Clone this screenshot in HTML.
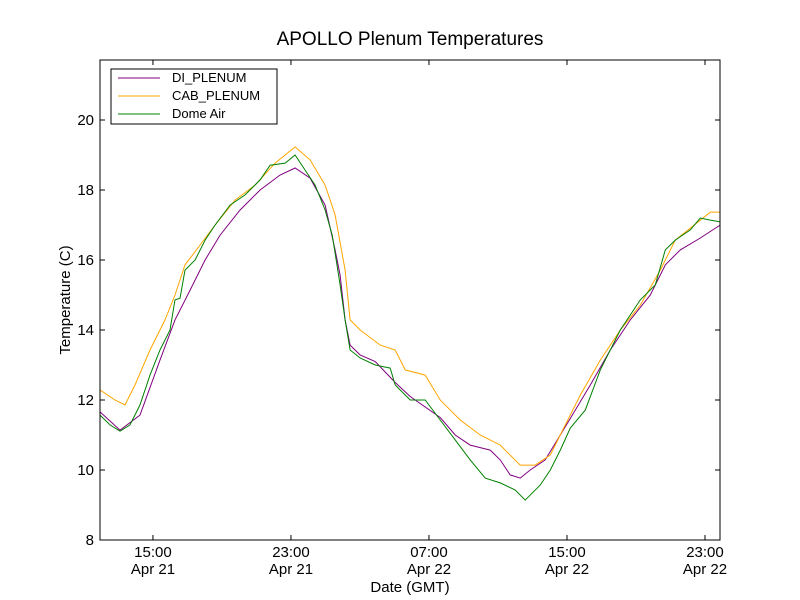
<!DOCTYPE html>
<html><head><meta charset="utf-8"><style>
body{margin:0;background:#fff;}
svg{font-family:"Liberation Sans","DejaVu Sans",sans-serif;display:block}
</style></head><body>
<svg id="c" width="800" height="600" viewBox="0 0 800 600">
<rect width="800" height="600" fill="#fff"/>
<text x="410" y="45" font-size="19" text-anchor="middle">APOLLO Plenum Temperatures</text>
<g id="plot"></g>
<rect x="100" y="60" width="620" height="480" fill="none" stroke="#000" stroke-width="1"/>
<text x="410" y="592" font-size="15" text-anchor="middle">Date (GMT)</text>
<text transform="translate(70,300) rotate(-90)" font-size="15" text-anchor="middle">Temperature (C)</text>
<g>
<rect x="111" y="69" width="166" height="55" fill="#fff" stroke="#000"/>
<line x1="118" y1="78" x2="160" y2="78" stroke="purple"/>
<text x="172" y="82" font-size="13">DI_PLENUM</text>
<line x1="118" y1="96" x2="160" y2="96" stroke="orange"/>
<text x="172" y="100" font-size="13">CAB_PLENUM</text>
<line x1="118" y1="114" x2="160" y2="114" stroke="green"/>
<text x="172" y="118" font-size="13">Dome Air</text>
</g>
</svg>
<script>
const yTicks=[8,10,12,14,16,18,20];
const xTickHours=[15,23,31,39,47];
const xTickTimes=["15:00","23:00","07:00","15:00","23:00"];
const xTickDates=["Apr 21","Apr 21","Apr 22","Apr 22","Apr 22"];
const diT=[11.93,13.09,14.25,15.41,16.28,17.15,18.02,18.89,20.05,21.21,22.37,23.24,24.11,24.98,25.56,25.85,26.14,26.43,27.01,27.88,29.04,29.91,31.65,32.52,33.39,34.55,35.13,35.71,36.29,36.87,37.74,38.61,39.48,40.35,41.51,42.67,43.83,44.70,45.57,46.73,47.89];
const diV=[11.66,11.14,11.57,13.14,14.29,15.14,16.0,16.71,17.43,18.0,18.43,18.63,18.34,17.57,16.29,15.57,14.29,13.57,13.29,13.1,12.5,12.1,11.5,11.0,10.71,10.57,10.29,9.86,9.77,10.0,10.29,11.0,11.71,12.43,13.43,14.29,15.0,15.86,16.29,16.63,17.0];
const cabT=[11.93,12.80,13.38,13.96,14.83,15.70,16.28,16.86,17.73,18.60,19.76,20.92,22.08,23.24,24.11,24.98,25.56,26.14,26.43,27.01,28.17,29.04,29.62,30.78,31.65,32.81,33.97,35.13,36.29,37.16,38.03,38.90,39.77,40.93,42.09,43.25,44.41,45.28,46.15,47.31,47.89];
const cabV=[12.29,12.0,11.86,12.43,13.43,14.29,15.0,15.86,16.43,17.0,17.71,18.14,18.77,19.23,18.86,18.14,17.29,15.71,14.29,14.0,13.57,13.43,12.86,12.71,12.0,11.43,11.0,10.71,10.14,10.14,10.43,11.29,12.14,13.14,14.0,14.71,15.71,16.57,16.91,17.37,17.37];
const domeT=[11.93,12.51,13.09,13.67,14.25,14.83,15.41,15.99,16.28,16.57,16.86,17.44,18.02,18.60,19.47,20.34,21.21,21.79,22.66,23.24,23.82,24.40,24.98,25.39,25.62,25.85,26.14,26.43,27.01,27.88,28.75,29.04,29.91,30.78,31.65,32.52,33.39,34.26,35.13,36.0,36.58,37.45,38.03,38.61,39.19,40.06,40.93,42.09,43.25,44.12,44.70,45.28,46.15,46.73,47.31,47.89];
const domeV=[11.57,11.29,11.11,11.29,11.86,12.71,13.43,14.0,14.86,14.91,15.71,16.0,16.57,17.0,17.57,17.86,18.29,18.71,18.77,19.0,18.57,18.14,17.43,16.71,16.0,15.29,14.29,13.43,13.2,13.0,12.91,12.43,12.0,12.0,11.43,10.86,10.29,9.77,9.63,9.43,9.14,9.57,10.0,10.57,11.2,11.71,12.86,14.0,14.86,15.29,16.29,16.57,16.86,17.2,17.14,17.09];

const X0=100,X1=720,Y0=540,Y1=60,HMIN=11.93,HMAX=47.87,VMIN=8,VMAX=8+480/35;
const xs=h=>X0+(h-HMIN)/(HMAX-HMIN)*(X1-X0);
const ys=v=>Y0-(v-VMIN)/(VMAX-VMIN)*(Y0-Y1);
const NS="http://www.w3.org/2000/svg";
const g=document.getElementById('plot');
function mk(t,a){const e=document.createElementNS(NS,t);for(const k in a)e.setAttribute(k,a[k]);return e;}
yTicks.forEach(v=>{
  const y=ys(v);
  const l=mk('path',{d:`M${X0} ${y}h5M${X1} ${y}h-5`,stroke:'#000'});
  
  
  g.appendChild(l);
  const t=mk('text',{x:X0-6,y:y+5,'font-size':15,'text-anchor':'end'});
  
  
  t.textContent=v;g.appendChild(t);
});
xTickHours.forEach((h,i)=>{
  const x=xs(h);
  const l=mk('path',{d:`M${x} ${Y0}v-5M${x} ${Y1}v5`,stroke:'#000'});
  
  
  g.appendChild(l);
  const t=mk('text',{x:x,y:Y0+17,'font-size':15,'text-anchor':'middle'});
  
  
  t.textContent=xTickTimes[i];g.appendChild(t);
  const t2=mk('text',{x:x,y:Y0+34,'font-size':15,'text-anchor':'middle'});
  
  
  t2.textContent=xTickDates[i];g.appendChild(t2);
});
function line(T,V,col,name){
  const d=T.map((h,i)=>(i?'L':'M')+xs(h).toFixed(1)+' '+ys(V[i]).toFixed(1)).join('');
  const p=mk('path',{d:d,fill:'none',stroke:col,'stroke-width':1});
  
  
  g.appendChild(p);
}
line(diT,diV,'purple','di-plenum-line');
line(cabT,cabV,'orange','cab-plenum-line');
line(domeT,domeV,'green','dome-air-line');
</script>
</body></html>
